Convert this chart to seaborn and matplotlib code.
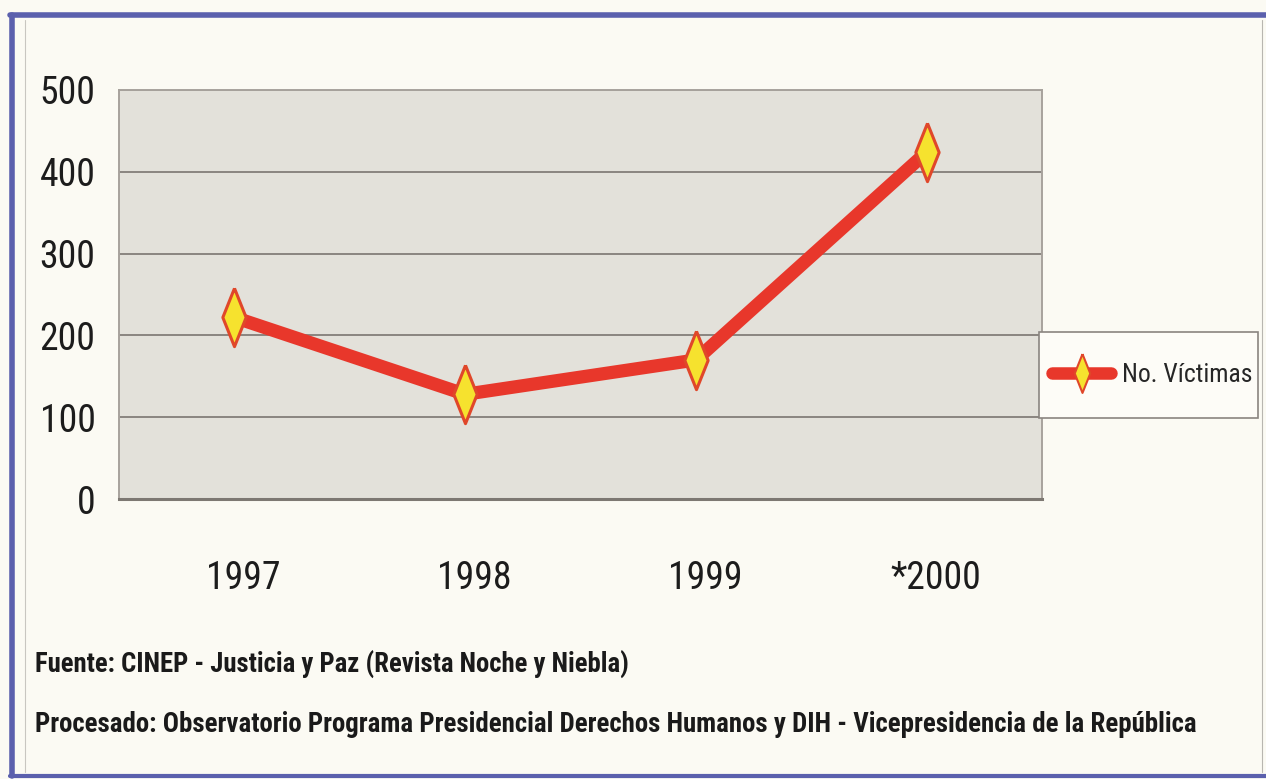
import numpy as np
import pandas as pd
import matplotlib
matplotlib.use("Agg")
import matplotlib.pyplot as plt
import seaborn as sns
from matplotlib.lines import Line2D
from matplotlib.patches import Rectangle

years = ["1997", "1998", "1999", "*2000"]
victims = [222, 128, 170, 424]
y_ticks = [0, 100, 200, 300, 400, 500]
series_name = "No. Víctimas"
source_1 = "Fuente: CINEP - Justicia y Paz (Revista Noche y Niebla)"
source_2 = "Procesado: Observatorio Programa Presidencial Derechos Humanos y DIH - Vicepresidencia de la República"

df = pd.DataFrame({"year": years, "victims": victims, "serie": series_name})

sns.set_style("white")
plt.rcParams["font.family"] = ["Roboto Condensed", "Liberation Sans Narrow", "Roboto", "DejaVu Sans"]
plt.rcParams["font.stretch"] = "condensed"

W, H = 1266, 779
fig = plt.figure(figsize=(W / 100, H / 100), dpi=100)
fig.patch.set_facecolor("#fbfaf3")
renderer = fig.canvas.get_renderer()


def fit_size(txt, width_px, weight="normal", base=20):
    # font size that makes txt about width_px wide
    t = fig.text(0, 0, txt, fontsize=base, fontweight=weight)
    w = t.get_window_extent(renderer).width
    t.remove()
    return base * width_px / w


tick_fs = fit_size("500", 56)
leg_fs = fit_size(series_name, 130)

ax = fig.add_axes([119 / W, 1 - 499 / H, (1042 - 119) / W, (499 - 90) / H])
ax.set_facecolor("#e3e1da")

# tall thin diamond marker
diamond = [(0, 1), (0.4, 0), (0, -1), (-0.4, 0), (0, 1)]

x = np.arange(len(years))
sns.lineplot(x=x, y=df["victims"], ax=ax, color="#e8372b", linewidth=9.5,
             marker=diamond, markersize=42, markerfacecolor="#f6e22e",
             markeredgecolor="#e0472a", markeredgewidth=2.2, legend=False,
             solid_joinstyle="miter")

ax.set_xlim(-0.5, len(years) - 0.5)
ax.set_ylim(0, 500)
ax.set_yticks(y_ticks)
ax.set_yticklabels([str(v) for v in y_ticks], fontsize=tick_fs, color="#1c1c1c")
ax.set_xticks(x + 0.04)
ax.set_xticklabels(years, fontsize=tick_fs, color="#1c1c1c")
ax.set_xticks(np.arange(-0.5, len(years), 1.0), minor=True)
ax.tick_params(axis="x", which="major", length=0, pad=44)
ax.tick_params(axis="x", which="minor", length=7, color="#9a958f", width=1)
ax.tick_params(axis="y", length=7, color="#8a8580", width=1.2, pad=10)
ax.set_xlabel("")
ax.set_ylabel("")

ax.grid(axis="y", color="#8a8580", linewidth=1.4)
ax.set_axisbelow(True)
for side in ["top", "right", "left"]:
    ax.spines[side].set_color("#a7a29c")
    ax.spines[side].set_linewidth(1.4)
ax.spines["bottom"].set_color("#7d7872")
ax.spines["bottom"].set_linewidth(2.2)

# legend box drawn as its own frame, entry placed inside
fig.add_artist(Rectangle((1039 / W, 1 - 418 / H), (1258 - 1039) / W, (418 - 332) / H,
                         transform=fig.transFigure, facecolor="#fdfcf7",
                         edgecolor="#8a8580", linewidth=1.2, zorder=3))
handle = Line2D([], [], color="#e8372b", linewidth=9, marker=diamond,
                markersize=28, markerfacecolor="#f6e22e",
                markeredgecolor="#e0472a", markeredgewidth=1.5)
leg = fig.legend([handle], [series_name], loc="center right",
                 bbox_to_anchor=(1252 / W, 1 - 375 / H), fontsize=leg_fs,
                 frameon=False, handlelength=2.3, handletextpad=0.4,
                 borderpad=0, borderaxespad=0)
leg.set_zorder(4)

fs1 = fit_size(source_1, 595, weight="bold")
fs2 = fit_size(source_2, 1157, weight="bold")
fig.text(35 / W, 1 - 665 / H, source_1, fontsize=fs1, fontweight="bold",
         color="#1a1a1a", va="center", ha="left")
fig.text(35 / W, 1 - 725 / H, source_2, fontsize=fs2, fontweight="bold",
         color="#1a1a1a", va="center", ha="left")

# scanned frame
blue = "#5b60ad"
fig.add_artist(Line2D([10 / W, 1], [1 - 15 / H, 1 - 15 / H], color=blue, linewidth=4, transform=fig.transFigure))
fig.add_artist(Line2D([12 / W, 12 / W], [1 - 15 / H, 1 - 776 / H], color=blue, linewidth=4, transform=fig.transFigure))
fig.add_artist(Line2D([10 / W, 1], [1 - 776 / H, 1 - 776 / H], color=blue, linewidth=3, transform=fig.transFigure))
fig.add_artist(Line2D([25 / W, 25 / W], [1 - 20 / H, 1 - 772 / H], color="#c8c6c0", linewidth=0.8, transform=fig.transFigure))
fig.add_artist(Line2D([1262 / W, 1262 / W], [1 - 20 / H, 1 - 772 / H], color="#b8b6b0", linewidth=0.8, transform=fig.transFigure))

fig.savefig("out.png", dpi=100, facecolor=fig.get_facecolor())
